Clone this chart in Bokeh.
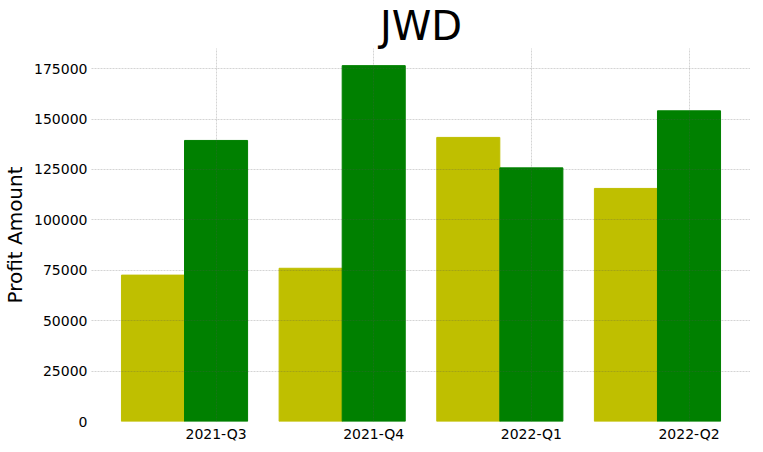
from bokeh.plotting import figure
from bokeh.models import FixedTicker, Range1d
from bokeh.embed import file_html
from bokeh.resources import INLINE

quarters = ["2021-Q3", "2021-Q4", "2022-Q1", "2022-Q2"]
series_a = [72600, 76000, 140900, 115600]
series_b = [139400, 176500, 125800, 154100]
y_ticks = [0, 25000, 50000, 75000, 100000, 125000, 150000, 175000]

x = list(range(len(quarters)))

p = figure(width=750, height=444, output_backend="svg", toolbar_location=None,
           x_range=Range1d(-0.79, 3.39), y_range=Range1d(0, 185000),
           title="JWD", y_axis_label="Profit Amount")
p.title.align = "center"
p.title.text_font_size = "40px"
p.title.text_font_style = "normal"
p.title.text_font = "DejaVu Sans"
p.title.text_color = "black"
p.title.standoff = 0

p.vbar(x=[i - 0.4 for i in x], top=series_a, width=0.4, color="#bfbf00")
p.vbar(x=x, top=series_b, width=0.4, color="#008000")

p.xaxis.ticker = FixedTicker(ticks=x)
p.xaxis.major_label_overrides = {i: q for i, q in zip(x, quarters)}
p.yaxis.ticker = FixedTicker(ticks=y_ticks)
p.yaxis.formatter.use_scientific = False
for ax in (p.xaxis, p.yaxis):
    ax.axis_line_color = None
    ax.major_tick_line_color = None
    ax.minor_tick_line_color = None
    ax.major_tick_out = 0
    ax.major_label_text_font_size = "14px"
    ax.major_label_text_font = "DejaVu Sans"
    ax.major_label_text_color = "black"
p.yaxis.axis_label_text_font_size = "20px"
p.yaxis.axis_label_text_font_style = "normal"
p.yaxis.axis_label_text_font = "DejaVu Sans"
p.yaxis.axis_label_text_color = "black"
p.yaxis.axis_label_standoff = 4
p.xaxis.major_label_standoff = 4
p.yaxis.major_label_standoff = 4

for g in (p.xgrid, p.ygrid):
    g.grid_line_color = "#555555"
    g.grid_line_alpha = 0.5
    g.grid_line_width = 0.5
    g.grid_line_dash = "2 1"
    g.level = "overlay"

p.outline_line_color = None
p.min_border_left = 0
p.min_border_bottom = 0
p.min_border_top = 0
p.min_border_right = 0

open("out.html", "w").write(file_html(p, INLINE))
